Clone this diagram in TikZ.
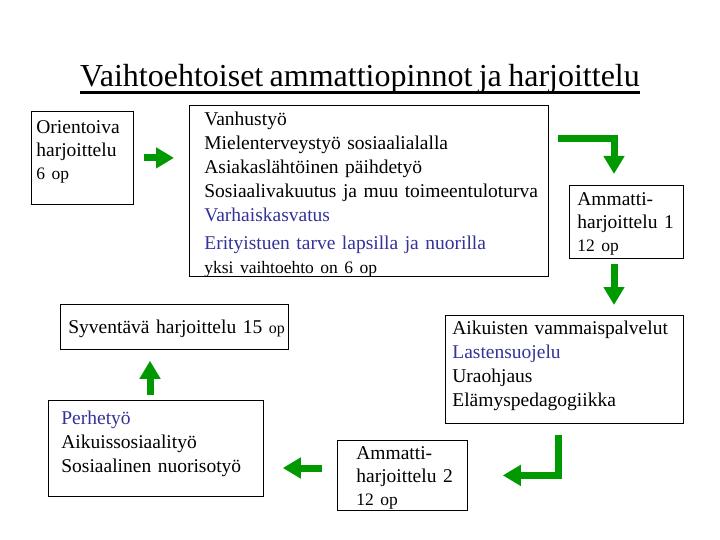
\documentclass[tikz,border=0pt]{standalone}
\usepackage{fontspec}
\setmainfont[WordSpace=0.8]{Liberation Serif}
\usetikzlibrary{arrows.meta}
\definecolor{arrowgreen}{RGB}{0,153,0}
\definecolor{textblue}{RGB}{51,51,153}
\newcommand{\smalltxt}[1]{{\fontsize{17.5}{24}\selectfont #1}}
\tikzset{%
  box/.style = {draw, line width=0.8pt, anchor=north west, align=left,
    inner ysep=0pt, font=\fontsize{19.5}{24}\selectfont},
  flow/.style = {draw=arrowgreen, line width=7pt, line join=miter,
    -{Triangle[width=20pt,length=18pt]}}
}
\begin{document}
\begin{tikzpicture}[x=1pt, y=-1pt]
  \useasboundingbox (0,0) rectangle (720,540);
  \node[font=\fontsize{32}{38}\selectfont, anchor=base, inner sep=0pt] (title) at (360,87)
    {Vaihtoehtoiset ammattiopinnot ja harjoittelu};
  \draw[line width=2.5pt] ([yshift=-5.5pt]title.base west) -- ([yshift=-5.5pt]title.base east);

  \node[box, inner xsep=5pt, text width=92pt, text height=22pt, text depth=71pt,
    font=\fontsize{19.5}{23}\selectfont] (orient) at (31,111)
    {Orientoiva\\harjoittelu\\\smalltxt{6 op}};
  \node[box, inner xsep=15pt, text width=329pt, text height=20pt, text depth=151pt] (choice) at (189,105)
    {Vanhustyö\\Mielenterveystyö sosiaalialalla\\Asiakaslähtöinen päihdetyö\\%
     \mbox{Sosiaalivakuutus ja muu toimeentuloturva}\\\textcolor{textblue}{Varhaiskasvatus}\\[4pt]%
     \textcolor{textblue}{Erityistuen tarve lapsilla ja nuorilla}\\\smalltxt{yksi vaihtoehto on 6 op}};
  \node[box, inner xsep=8pt, text width=98pt, text height=20pt, text depth=53pt,
    font=\fontsize{19.5}{23}\selectfont] (practice1) at (569,185)
    {Ammatti-\\\mbox{harjoittelu 1}\\\smalltxt{12 op}};
  \node[box, inner xsep=7pt, text width=224pt, text height=19pt, text depth=89pt] (adult) at (445,315)
    {Aikuisten vammaispalvelut\\\textcolor{textblue}{Lastensuojelu}\\Uraohjaus\\Elämyspedagogiikka};
  \node[box, inner xsep=19pt, text width=92pt, text height=19pt, text depth=51pt,
    font=\fontsize{19.5}{23}\selectfont] (practice2) at (337,440)
    {Ammatti-\\\mbox{harjoittelu 2}\\\smalltxt{12 op}};
  \node[box, inner xsep=13pt, text width=189pt, text height=24pt, text depth=72pt] (family) at (48,400)
    {\textcolor{textblue}{Perhetyö}\\Aikuissosiaalityö\\Sosiaalinen nuorisotyö};
  \node[box, inner xsep=8pt, text width=212pt, text height=29pt, text depth=16pt] (deep) at (60,304)
    {\mbox{Syventävä harjoittelu 15 {\fontsize{16}{24}\selectfont op}}};

  % arrows
  \coordinate (corner1) at (614,139);
  \coordinate (corner2) at (558,474);
  \coordinate (column) at (150,468);
  \draw[flow, shorten <=10pt, shorten >=15pt] (orient.east) -- (orient.east -| choice.west);
  \draw[flow, shorten <=9pt, shorten >=11pt] (choice.east |- corner1) -| (practice1.north -| corner1);
  \draw[flow, shorten <=5pt, shorten >=10pt] (practice1.south -| corner1) -- (adult.north -| corner1);
  \draw[flow, shorten <=11pt, shorten >=35pt] (adult.south -| corner2) |- (practice2.east);
  \draw[flow, shorten <=15pt, shorten >=19pt] (practice2.west |- column) -- (family.east |- column);
  \draw[flow, shorten <=5pt, shorten >=11pt] (family.north -| column) -- (deep.south -| column);
\end{tikzpicture}
\end{document}
